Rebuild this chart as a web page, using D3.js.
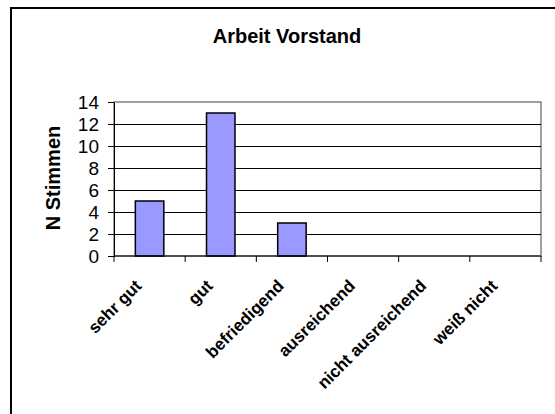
<!DOCTYPE html>
<html lang="de">
<head>
  <meta charset="utf-8" />
  <title>Arbeit Vorstand</title>
  <script src="https://cdn.jsdelivr.net/npm/d3@7/dist/d3.min.js"></script>
  <style>
    html, body { margin: 0; padding: 0; background: #fff; overflow: hidden; }
    svg { display: block; font-family: Arial, "Liberation Sans", sans-serif; }
  </style>
</head>
<body>
  <div id="chart"></div>
  <script>
    // Daten
    const categories = ["sehr gut", "gut", "befriedigend", "ausreichend", "nicht ausreichend", "weiß nicht"];
    const stimmen = [5, 13, 3, 0, 0, 0];
    const yTicks = [0, 2, 4, 6, 8, 10, 12, 14];

    const width = 555;
    const height = 414;
    const plot = { left: 114, right: 541, top: 102, bottom: 256 };

    const svg = d3.select("#chart")
      .append("svg")
      .attr("width", width)
      .attr("height", height)
      .attr("viewBox", [0, 0, width, height]);

    // Rahmen um das Diagramm: nur oben und links sichtbar
    svg.append("path")
      .attr("d", `M11,${height}V8H${width}`)
      .attr("fill", "none")
      .attr("stroke", "#000")
      .attr("stroke-width", 2);

    // Titel
    svg.append("text")
      .attr("x", 287).attr("y", 43)
      .attr("text-anchor", "middle")
      .attr("font-size", 20)
      .attr("font-weight", "bold")
      .text("Arbeit Vorstand");

    const xb = d3.scaleBand().domain(categories).range([plot.left, plot.right]);

    const y = d3.scaleLinear()
      .domain([0, 14])
      .range([plot.bottom, plot.top]);

    // Zeichenfläche
    svg.append("rect")
      .attr("x", plot.left).attr("y", plot.top)
      .attr("width", plot.right - plot.left).attr("height", plot.bottom - plot.top)
      .attr("fill", "#fff")
      .attr("stroke", "#808080")
      .attr("stroke-width", 1.5);

    // Gitterlinien
    svg.append("g")
      .selectAll("line")
      .data(yTicks.filter(d => d > 0 && d < 14))
      .join("line")
      .attr("x1", plot.left).attr("x2", plot.right)
      .attr("y1", d => y(d) + 0.5).attr("y2", d => y(d) + 0.5)
      .attr("stroke", "#000");

    // Balken (Lückenbreite 150 %)
    const barW = xb.bandwidth() / 2.5;
    svg.append("g")
      .selectAll("rect")
      .data(stimmen.map((v, i) => ({ k: categories[i], v })).filter(d => d.v > 0))
      .join("rect")
      .attr("x", d => xb(d.k) + (xb.bandwidth() - barW) / 2)
      .attr("width", barW)
      .attr("y", d => y(d.v))
      .attr("height", d => y(0) - y(d.v))
      .attr("fill", "#9999ff")
      .attr("stroke", "#000")
      .attr("stroke-width", 1.5);

    // Y-Achse
    svg.append("g")
      .attr("transform", `translate(${plot.left},0)`)
      .call(d3.axisLeft(y).tickValues(yTicks).tickSize(6).tickPadding(9).tickSizeOuter(0))
      .call(g => g.selectAll("path, line").attr("stroke", "#000"))
      .call(g => g.selectAll("text")
        .attr("font-family", "Arial, 'Liberation Sans', sans-serif")
        .attr("font-size", 19)
        .attr("fill", "#000"));

    // X-Achse
    const xAxis = svg.append("g")
      .attr("transform", `translate(0,${plot.bottom})`);
    xAxis.append("line")
      .attr("x1", plot.left).attr("x2", plot.right)
      .attr("stroke", "#000");
    xAxis.selectAll("line.tk")
      .data(d3.range(categories.length + 1))
      .join("line")
      .attr("class", "tk")
      .attr("x1", i => plot.left + i * xb.step())
      .attr("x2", i => plot.left + i * xb.step())
      .attr("y1", 0).attr("y2", 6)
      .attr("stroke", "#000");

    xAxis.selectAll("text")
      .data(categories)
      .join("text")
      .attr("transform", d => `translate(${xb(d) + xb.bandwidth() / 2 - 7},${31}) rotate(-45)`)
      .attr("text-anchor", "end")
      .attr("font-size", 17)
      .attr("font-weight", "bold")
      .attr("fill", "#000")
      .text(d => d);

    // Y-Achsentitel
    svg.append("text")
      .attr("transform", `translate(60,178) rotate(-90)`)
      .attr("text-anchor", "middle")
      .attr("font-size", 20)
      .attr("font-weight", "bold")
      .text("N Stimmen");
  </script>
</body>
</html>
